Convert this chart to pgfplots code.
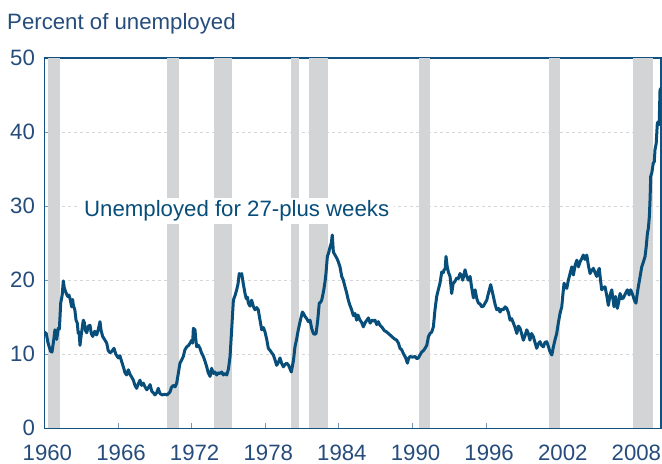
\documentclass[border=0pt]{standalone}
\usepackage{fontspec}
\setmainfont{Liberation Sans}
\usepackage{pgfplots}
\pgfplotsset{compat=1.18}
\definecolor{linecol}{RGB}{8,78,122}
\definecolor{labelcol}{RGB}{38,76,124}
\definecolor{axiscol}{RGB}{18,82,130}
\definecolor{tickcol}{RGB}{120,150,182}
\definecolor{recess}{RGB}{211,212,214}
\definecolor{gridcol}{RGB}{214,214,214}
\pgfplotstableread{
x y
1960.00 13.0
1960.15 12.8
1960.30 11.5
1960.50 10.4
1960.62 10.3
1960.75 11.8
1960.86 13.3
1961.00 12.0
1961.13 13.5
1961.22 13.4
1961.33 16.9
1961.45 18.0
1961.54 19.9
1961.62 19.0
1961.76 18.3
1961.90 17.8
1962.00 18.0
1962.09 17.5
1962.22 16.4
1962.30 17.4
1962.36 16.6
1962.48 16.0
1962.58 14.6
1962.68 14.2
1962.76 12.8
1962.83 13.0
1962.90 11.2
1963.00 12.6
1963.17 14.6
1963.25 14.3
1963.35 13.2
1963.45 12.9
1963.58 13.8
1963.72 13.9
1963.82 12.8
1963.94 12.4
1964.10 13.1
1964.26 12.6
1964.40 13.4
1964.53 14.4
1964.62 13.2
1964.75 12.4
1964.90 12.0
1965.08 11.5
1965.20 10.5
1965.35 10.2
1965.50 10.4
1965.67 10.8
1965.82 10.0
1966.02 9.5
1966.15 9.8
1966.30 9.0
1966.45 8.2
1966.57 7.5
1966.70 7.2
1966.84 7.9
1967.00 7.2
1967.12 6.9
1967.25 6.5
1967.38 5.8
1967.52 5.4
1967.65 6.0
1967.79 6.5
1967.92 5.8
1968.06 6.1
1968.20 5.6
1968.34 5.2
1968.48 5.5
1968.61 5.9
1968.75 5.0
1968.88 4.8
1969.01 4.5
1969.15 4.8
1969.28 5.4
1969.42 4.7
1969.60 4.5
1969.83 4.6
1970.00 4.5
1970.23 4.9
1970.35 5.5
1970.50 5.8
1970.65 5.6
1970.78 6.1
1970.92 7.5
1971.05 8.8
1971.18 9.2
1971.32 9.7
1971.45 10.6
1971.60 11.0
1971.75 11.2
1971.87 11.5
1972.01 11.9
1972.08 11.5
1972.14 13.5
1972.27 13.3
1972.34 12.0
1972.41 11.0
1972.55 11.2
1972.68 10.8
1972.80 10.2
1972.95 9.7
1973.10 9.0
1973.23 8.3
1973.35 7.5
1973.50 7.0
1973.63 8.1
1973.77 7.4
1973.90 7.6
1974.04 7.2
1974.18 7.5
1974.31 7.4
1974.45 7.6
1974.58 7.2
1974.72 7.4
1974.86 7.2
1975.00 8.0
1975.13 9.7
1975.25 13.0
1975.40 17.3
1975.55 18.0
1975.67 18.7
1975.78 19.5
1975.88 20.9
1976.00 20.6
1976.08 20.9
1976.20 19.6
1976.35 18.2
1976.45 17.5
1976.55 17.7
1976.62 16.9
1976.75 16.5
1976.89 17.3
1977.02 16.5
1977.16 16.0
1977.30 16.3
1977.43 16.0
1977.55 14.8
1977.71 13.3
1977.85 13.6
1977.98 13.0
1978.12 12.0
1978.25 10.8
1978.40 10.5
1978.52 10.2
1978.66 9.9
1978.80 9.2
1978.93 8.5
1979.07 8.9
1979.20 9.5
1979.33 8.8
1979.47 8.3
1979.60 8.6
1979.75 8.8
1979.90 8.5
1980.05 7.9
1980.12 7.6
1980.20 8.3
1980.30 9.2
1980.42 11.0
1980.55 12.0
1980.69 13.3
1980.85 14.5
1981.02 15.7
1981.12 15.5
1981.24 15.1
1981.38 14.8
1981.51 14.4
1981.65 14.6
1981.78 13.5
1981.92 12.8
1982.03 12.7
1982.14 12.8
1982.27 14.5
1982.40 16.9
1982.50 17.0
1982.60 17.3
1982.75 18.5
1982.87 19.8
1982.95 21.0
1983.06 23.2
1983.18 23.8
1983.28 24.5
1983.38 25.0
1983.46 26.1
1983.55 23.8
1983.68 23.4
1983.82 23.0
1983.95 22.5
1984.09 21.8
1984.23 20.5
1984.36 20.0
1984.50 19.1
1984.63 18.3
1984.77 17.3
1984.90 16.6
1985.04 16.0
1985.18 15.2
1985.31 15.5
1985.45 14.6
1985.55 15.3
1985.72 14.6
1985.85 14.3
1985.99 13.7
1986.15 14.3
1986.28 14.6
1986.40 14.9
1986.55 14.2
1986.68 14.6
1986.80 14.5
1986.94 14.6
1987.08 14.0
1987.21 14.4
1987.35 13.9
1987.49 13.7
1987.70 13.2
1987.90 13.0
1988.10 12.7
1988.31 12.4
1988.50 12.1
1988.71 11.9
1988.85 11.5
1988.98 10.8
1989.12 10.6
1989.25 10.1
1989.42 9.6
1989.58 8.8
1989.70 9.5
1989.80 9.7
1990.00 9.6
1990.20 9.7
1990.35 9.4
1990.47 9.5
1990.61 9.9
1990.75 10.3
1990.90 10.5
1991.02 10.8
1991.16 11.2
1991.30 12.4
1991.43 12.8
1991.56 13.0
1991.70 13.7
1991.83 16.0
1991.97 17.8
1992.10 18.7
1992.24 19.6
1992.38 21.1
1992.50 21.0
1992.57 21.4
1992.66 21.5
1992.73 23.2
1992.82 21.9
1992.92 21.1
1993.06 20.5
1993.19 18.2
1993.32 19.6
1993.45 19.8
1993.60 20.3
1993.73 20.2
1993.87 20.9
1994.00 20.6
1994.09 20.0
1994.20 20.8
1994.28 21.4
1994.42 20.5
1994.55 20.0
1994.69 20.5
1994.82 19.0
1994.96 17.6
1995.10 18.7
1995.24 17.5
1995.37 16.9
1995.50 16.8
1995.64 16.4
1995.78 16.5
1995.91 16.9
1996.05 17.3
1996.18 18.2
1996.28 18.8
1996.37 19.4
1996.48 18.6
1996.59 17.8
1996.72 16.8
1996.86 16.0
1997.00 16.2
1997.13 15.7
1997.27 16.1
1997.40 16.0
1997.55 16.4
1997.68 16.2
1997.82 15.6
1997.95 14.6
1998.08 14.8
1998.22 14.2
1998.36 13.6
1998.50 12.8
1998.63 13.8
1998.77 13.5
1998.90 12.7
1999.03 11.9
1999.17 12.5
1999.31 13.3
1999.44 12.8
1999.57 11.9
1999.70 12.8
1999.84 12.4
1999.98 11.6
2000.12 10.8
2000.25 11.4
2000.39 11.7
2000.52 11.2
2000.66 11.0
2000.80 11.6
2000.94 11.7
2001.08 11.0
2001.21 10.3
2001.35 9.9
2001.48 11.0
2001.62 12.0
2001.75 12.8
2001.88 14.2
2002.02 15.5
2002.16 16.4
2002.25 18.0
2002.35 19.6
2002.46 19.0
2002.57 18.9
2002.70 20.0
2002.84 20.9
2002.98 21.8
2003.11 20.7
2003.25 22.0
2003.39 22.7
2003.52 21.8
2003.66 22.5
2003.79 22.9
2003.92 23.4
2004.06 22.8
2004.20 23.4
2004.33 22.0
2004.47 20.9
2004.60 21.3
2004.74 21.6
2004.88 21.0
2005.01 20.5
2005.12 21.2
2005.22 21.6
2005.32 20.0
2005.42 18.7
2005.56 19.0
2005.69 19.1
2005.82 18.0
2005.96 16.6
2006.10 18.0
2006.24 18.7
2006.33 17.5
2006.42 16.4
2006.55 17.8
2006.69 16.2
2006.80 17.0
2006.91 18.2
2007.05 17.5
2007.18 17.6
2007.35 18.2
2007.51 18.7
2007.65 18.0
2007.78 18.7
2007.90 18.2
2007.99 17.8
2008.10 17.2
2008.21 16.9
2008.30 18.0
2008.40 19.1
2008.55 20.5
2008.68 21.8
2008.82 22.5
2008.95 23.2
2009.05 24.6
2009.14 26.3
2009.22 27.0
2009.30 28.6
2009.36 31.0
2009.41 34.0
2009.50 34.5
2009.62 35.8
2009.70 36.0
2009.76 37.6
2009.86 38.5
2009.95 41.2
2010.03 41.4
2010.10 41.0
2010.17 45.7
2010.25 45.9
}\ltu
\begin{document}
\begin{tikzpicture}
\useasboundingbox (0,0) rectangle (662bp,464bp);
\node[anchor=base west, inner sep=0, text=labelcol, font=\fontsize{22.3}{25}\selectfont] at (7bp,434.7bp) {Percent of unemployed};
\begin{axis}[
  at={(44.4bp,35.7bp)}, anchor=south west,
  scale only axis, width=616.6bp, height=370.3bp,
  xmin=1960, xmax=2010.25, ymin=0, ymax=50,
  xtick={1960,1966,1972,1978,1984,1990,1996,2002,2008},
  xticklabels={1960,1966,1972,1978,1984,1990,1996,2002,2008},
  ytick={0,10,20,30,40,50},
  yticklabels={0,10,20,30,40,50},
  tick align=inside,
  major tick length=5bp,
  xtick pos=lower, ytick pos=left,
  axis line style={draw=axiscol, line width=1.2bp},
  tick style={draw=tickcol, line width=1bp},
  ymajorgrids, grid style={draw=gridcol, dash pattern=on 3bp off 3bp, line width=0.8bp},
  ticklabel style={font=\fontsize{22.3}{25}\selectfont, text=labelcol},
  xticklabel style={yshift=-13bp, xshift=3bp},
  yticklabel style={xshift=-6bp},
]
\addplot[fill=recess, draw=none] coordinates {(1960.30,50) (1961.30,50)} \closedcycle;
\addplot[fill=recess, draw=none] coordinates {(1969.97,50) (1971.00,50)} \closedcycle;
\addplot[fill=recess, draw=none] coordinates {(1973.85,50) (1975.30,50)} \closedcycle;
\addplot[fill=recess, draw=none] coordinates {(1980.10,50) (1980.75,50)} \closedcycle;
\addplot[fill=recess, draw=none] coordinates {(1981.57,50) (1983.14,50)} \closedcycle;
\addplot[fill=recess, draw=none] coordinates {(1990.53,50) (1991.43,50)} \closedcycle;
\addplot[fill=recess, draw=none] coordinates {(2001.10,50) (2002.02,50)} \closedcycle;
\addplot[fill=recess, draw=none] coordinates {(2007.95,50) (2009.63,50)} \closedcycle;
\addplot[color=linecol, line width=3bp, line join=round, line cap=round] table[x=x,y=y] {\ltu};
\node[anchor=base west, inner xsep=5bp, inner ysep=3bp, fill=white, text=linecol, font=\fontsize{22.3}{25}\selectfont] at (axis cs:1962.82,28.57) {Unemployed for 27-plus weeks};
\end{axis}
\end{tikzpicture}
\end{document}
